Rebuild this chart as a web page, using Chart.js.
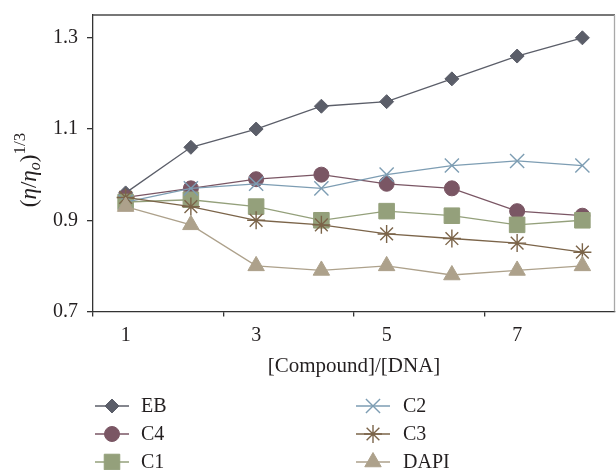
<!DOCTYPE html>
<html>
<head>
<meta charset="utf-8">
<script src="https://cdn.jsdelivr.net/npm/chart.js@4/dist/chart.umd.min.js"></script>
<style>
  html, body { margin: 0; padding: 0; background: #fff; }
  #wrap { width: 616px; height: 470px; }
</style>
</head>
<body>
<div id="wrap"><canvas id="viscosityChart" width="616" height="470"></canvas></div>
<script>
// data
const xValues = ['1', '2', '3', '4', '5', '6', '7', '8'];
const xTickLabels = ['1', '', '3', '', '5', '', '7', ''];
const yTicks = [0.7, 0.9, 1.1, 1.3];

const seriesNames = ['EB', 'C4', 'C1', 'C2', 'C3', 'DAPI'];
const ebValues = [0.96, 1.06, 1.10, 1.15, 1.16, 1.21, 1.26, 1.30];
const c4Values = [0.95, 0.97, 0.99, 1.00, 0.98, 0.97, 0.92, 0.91];
const c1Values = [0.94, 0.945, 0.93, 0.90, 0.92, 0.91, 0.89, 0.90];
const c2Values = [0.94, 0.97, 0.98, 0.97, 1.00, 1.02, 1.03, 1.02];
const c3Values = [0.95, 0.93, 0.90, 0.89, 0.87, 0.86, 0.85, 0.83];
const dapiValues = [0.93, 0.89, 0.80, 0.79, 0.80, 0.78, 0.79, 0.80];

const FONT = '"Liberation Serif", "DejaVu Serif", serif';
const TEXT = '#231f20';

document.addEventListener('DOMContentLoaded', function () {
    Chart.defaults.font.family = FONT;
    Chart.defaults.font.size = 20;
    Chart.defaults.color = TEXT;

    function series(label, data, color, style, radius, order) {
        return {
            label: label,
            data: data,
            borderColor: color,
            backgroundColor: color,
            borderWidth: 1.3,
            pointStyle: style,
            pointRadius: radius,
            pointHoverRadius: radius,
            pointBackgroundColor: color,
            pointBorderColor: color,
            pointBorderWidth: (style === 'crossRot' || style === 'star') ? 1.4 : 1,
            tension: 0,
            clip: false,
            order: order
        };
    }

    const datasets = [
        series(seriesNames[0], ebValues, '#5b5e69', 'rectRot', 7, 6),
        series(seriesNames[1], c4Values, '#7a5664', 'circle', 7.5, 5),
        series(seriesNames[2], c1Values, '#94a07b', 'rect', 11, 4),
        series(seriesNames[3], c2Values, '#7d9db3', 'crossRot', 10, 3),
        series(seriesNames[4], c3Values, '#7b6449', 'star', 9, 2),
        series(seriesNames[5], dapiValues, '#ada18b', 'triangle', 9.5, 1)
    ];

    // frame on top and right, y title with sub/superscript, two-column legend
    const decorations = {
        id: 'decorations',
        afterDraw(chart) {
            const ctx = chart.ctx;
            const a = chart.chartArea;
            ctx.save();
            ctx.lineWidth = 1.3;
            ctx.strokeStyle = '#4a4a4a';
            ctx.beginPath();
            ctx.moveTo(a.left, a.top);
            ctx.lineTo(a.right, a.top);
            ctx.stroke();
            ctx.strokeStyle = '#a8a8a8';
            ctx.beginPath();
            ctx.moveTo(a.right - 0.5, a.top);
            ctx.lineTo(a.right - 0.5, a.bottom);
            ctx.stroke();
            ctx.restore();

            // y axis title: (η/ηo)^1/3
            ctx.save();
            ctx.translate(36, 170);
            ctx.rotate(-Math.PI / 2);
            ctx.fillStyle = TEXT;
            ctx.textBaseline = 'alphabetic';
            ctx.textAlign = 'left';
            const parts = [
                { t: '(', f: '23px ' + FONT, dy: 0 },
                { t: 'η', f: 'italic 23px ' + FONT, dy: 0 },
                { t: '/', f: '23px ' + FONT, dy: 0 },
                { t: 'η', f: 'italic 23px ' + FONT, dy: 0 },
                { t: 'o', f: 'italic 16px ' + FONT, dy: 4 },
                { t: ')', f: '23px ' + FONT, dy: 0 },
                { t: '1/3', f: '17px ' + FONT, dy: -11 }
            ];
            let total = 0;
            parts.forEach(p => { ctx.font = p.f; total += ctx.measureText(p.t).width; });
            let x = -total / 2;
            parts.forEach(p => {
                ctx.font = p.f;
                ctx.fillText(p.t, x, p.dy);
                x += ctx.measureText(p.t).width;
            });
            ctx.restore();

            // legend
            const cols = [{ x0: 95, x1: 129, tx: 141 }, { x0: 356, x1: 390, tx: 403 }];
            const rows = [406, 434, 462];
            ctx.save();
            ctx.font = '20px ' + FONT;
            ctx.textBaseline = 'middle';
            ctx.textAlign = 'left';
            chart.data.datasets.forEach((ds, i) => {
                const c = cols[Math.floor(i / 3)];
                const y = rows[i % 3];
                ctx.strokeStyle = ds.borderColor;
                ctx.lineWidth = 1.3;
                ctx.beginPath();
                ctx.moveTo(c.x0, y);
                ctx.lineTo(c.x1, y);
                ctx.stroke();
                ctx.fillStyle = ds.pointBackgroundColor;
                ctx.strokeStyle = ds.pointBorderColor;
                ctx.lineWidth = ds.pointBorderWidth;
                Chart.helpers.drawPoint(ctx, {
                    pointStyle: ds.pointStyle,
                    radius: ds.pointRadius,
                    rotation: 0,
                    borderWidth: ds.pointBorderWidth
                }, (c.x0 + c.x1) / 2, y);
                ctx.fillStyle = TEXT;
                ctx.fillText(ds.label, c.tx, y + 1);
            });
            ctx.restore();
        }
    };

    new Chart(document.getElementById('viscosityChart').getContext('2d'), {
        type: 'line',
        data: {
            labels: xValues,
            datasets: datasets
        },
        options: {
            responsive: false,
            animation: false,
            layout: {
                autoPadding: false,
                padding: { top: 15, right: 1, bottom: 89, left: 0 }
            },
            plugins: {
                legend: { display: false },
                tooltip: { enabled: false }
            },
            scales: {
                x: {
                    type: 'category',
                    offset: true,
                    border: { color: '#333', width: 1.3 },
                    grid: {
                        offset: true,
                        drawOnChartArea: false,
                        tickLength: 5,
                        lineWidth: 1.3,
                        color: ctx => ctx.index % 2 === 0 ? '#333' : 'rgba(0,0,0,0)'
                    },
                    ticks: {
                        autoSkip: false,
                        maxRotation: 0,
                        padding: 7,
                        callback: (val, i) => xTickLabels[i]
                    },
                    title: {
                        display: true,
                        text: '[Compound]/[DNA]',
                        font: { size: 21 },
                        padding: { top: 8, bottom: 2 }
                    },
                    afterFit: axis => {
                        axis.height = 69.5;
                        axis.paddingLeft = 0;
                        axis.paddingRight = 0;
                    }
                },
                y: {
                    min: 0.7,
                    max: 1.35,
                    border: { color: '#333', width: 1.3 },
                    grid: {
                        drawOnChartArea: false,
                        tickLength: 6,
                        lineWidth: 1.3,
                        color: '#333'
                    },
                    ticks: {
                        padding: 9,
                        callback: v => Number(v).toFixed(1)
                    },
                    afterBuildTicks: axis => {
                        axis.ticks = yTicks.map(v => ({ value: v }));
                    },
                    afterFit: axis => {
                        axis.width = 93;
                        axis.paddingTop = 0;
                        axis.paddingBottom = 0;
                    }
                }
            }
        },
        plugins: [decorations]
    });
});
</script>
</body>
</html>
